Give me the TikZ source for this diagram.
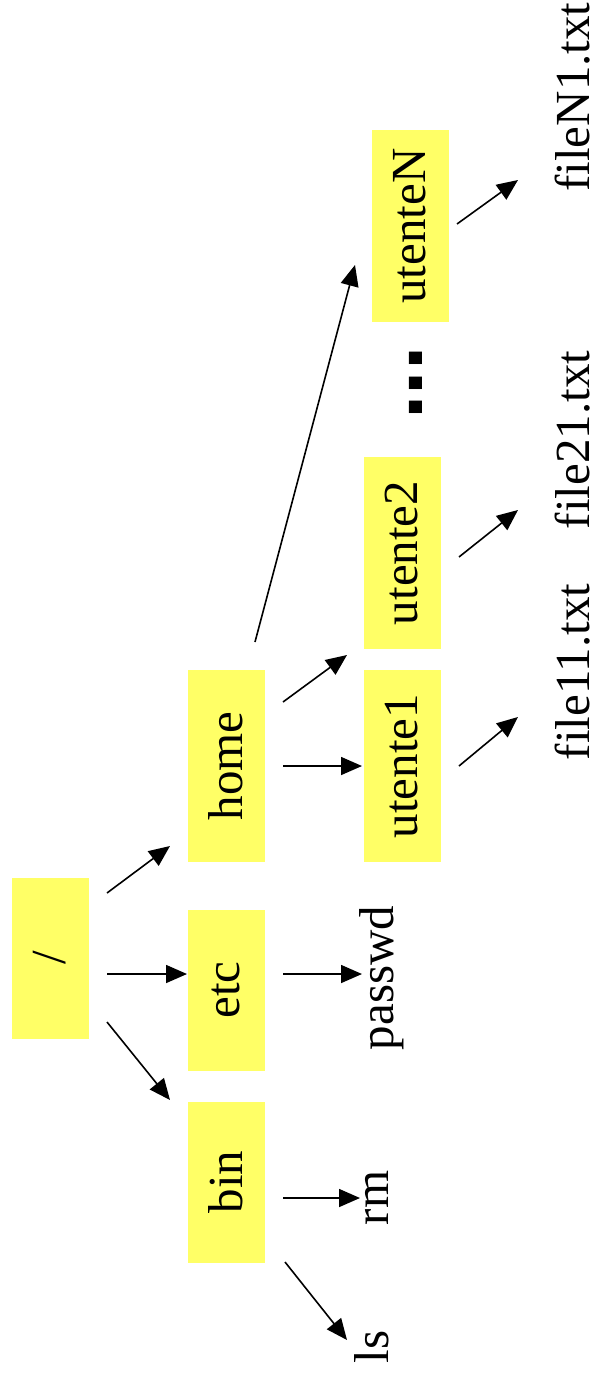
\documentclass[tikz,border=0pt]{standalone}
\usepackage{fontspec}
\setmainfont{Liberation Serif}
\newfontfamily\dotsfont{Liberation Sans}
\usetikzlibrary{arrows.meta}
\definecolor{boxyellow}{HTML}{FFFF66}
\tikzset{
  x=1pt, y=-1pt,
  dirbox/.style={rotate=90, fill=boxyellow, inner sep=0pt, minimum width=192pt, minimum height=77pt,
    font=\fontsize{49}{56}\selectfont},
  rootbox/.style={dirbox, minimum width=161pt},
  midbox/.style={dirbox, minimum width=161pt},
  leaf/.style={rotate=90, inner sep=0pt, font=\fontsize{49}{56}\selectfont},
  arr/.style={-{Triangle[length=21pt,width=18pt]}, line width=1.6pt}
}
\begin{document}
\begin{tikzpicture}
\useasboundingbox (0,0) rectangle (598,1389);
% directories
\node[rootbox] (root) at (50,958) {/};
\node[midbox] (etc) at (226,990) {etc};
\node[dirbox] (home) at (226,766) {home};
\node[midbox] (bin) at (226,1182) {bin};
\node[dirbox] (u1) at (402,766) {utente1};
\node[dirbox] (u2) at (402,553) {utente2};
\node[dirbox] (uN) at (410,226) {utenteN};
% leaves
\node[leaf] (passwd) at (382,978) {passwd};
\node[leaf] (rm) at (377,1198) {rm};
\node[leaf] (ls) at (372,1347) {ls};
\node[leaf] (f11) at (573,672) {file11.txt};
\node[leaf] (f21) at (573,440) {file21.txt};
\node[leaf] (fN1) at (573,97) {fileN1.txt};
\node[rotate=90, inner sep=0pt, font=\dotsfont\bfseries\fontsize{88}{90}\selectfont] (dots) at (416,383) {...};
% connectors
\draw[arr] ([shift={(57,-65)}]root.center) -- ([shift={(-56,80)}]home.center);
\draw[arr] ([shift={(57,16)}]root.center) -- ([shift={(-39,-16)}]etc.center);
\draw[arr] ([shift={(57,64)}]root.center) -- ([shift={(-56,-82)}]bin.center);
\draw[arr] ([shift={(57,-16)}]etc.center) -- ([shift={(-20,-4)}]passwd.center);
\draw[arr] ([shift={(57,16)}]bin.center) -- ([shift={(-17,0)}]rm.center);
\draw[arr] ([shift={(59,80)}]bin.center) -- ([shift={(-25,-7)}]ls.center);
\draw[arr] ([shift={(57,0)}]home.center) -- ([shift={(-40,0)}]u1.center);
\draw[arr] ([shift={(57,-64)}]home.center) -- ([shift={(-55,102)}]u2.center);
\draw[arr] ([shift={(29,-124)}]home.center) -- ([shift={(-55,39)}]uN.center);
\draw[arr] ([shift={(57,0)}]u1.center) -- ([shift={(-55,45)}]f11.center);
\draw[arr] ([shift={(57,4)}]u2.center) -- ([shift={(-55,70)}]f21.center);
\draw[arr] ([shift={(47,-2)}]uN.center) -- ([shift={(-55,83)}]fN1.center);
\end{tikzpicture}
\end{document}
